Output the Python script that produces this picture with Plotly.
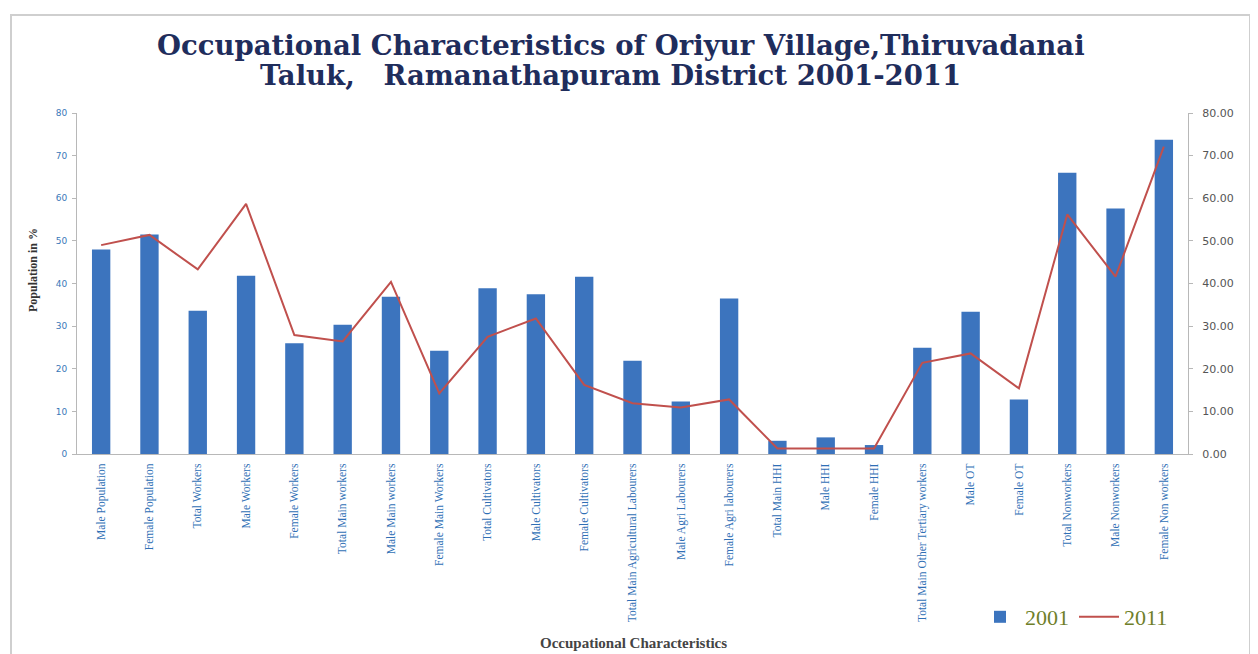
import plotly.graph_objects as go

categories = [
    "Male Population", "Female Population", "Total Workers", "Male Workers",
    "Female Workers", "Total Main workers", "Male Main workers",
    "Female Main Workers", "Total Cultivators", "Male Cultivators",
    "Female Cultivators", "Total Main Agricultural Labourers",
    "Male Agri Labourers", "Female Agri labourers", "Total Main HHI",
    "Male HHI", "Female HHI", "Total Main Other Tertiary workers",
    "Male OT", "Female OT", "Total Nonworkers", "Male Nonworkers",
    "Female Non workers",
]
values_2001 = [48.0, 51.5, 33.6, 41.8, 26.0, 30.3, 36.9, 24.2, 38.9, 37.5,
               41.6, 21.9, 12.3, 36.5, 3.1, 3.9, 2.1, 24.9, 33.4, 12.8,
               66.0, 57.6, 73.7]
values_2011 = [49.0, 51.4, 43.3, 58.7, 27.9, 26.4, 40.4, 14.2, 27.5, 31.8,
               16.2, 11.9, 10.9, 12.8, 1.3, 1.3, 1.3, 21.4, 23.6, 15.4,
               56.2, 41.6, 72.1]
left_ticks = [0, 10, 20, 30, 40, 50, 60, 70, 80]
right_ticks = [0, 10, 20, 30, 40, 50, 60, 70, 80]
title_line1 = "Occupational Characteristics of Oriyur Village,Thiruvadanai"
title_line2 = "Taluk,   Ramanathapuram District 2001-2011"

# figure geometry (page body has an 8px margin)
W, H = 1250, 646
ML, MR, MT, MB = 69, 70, 105, 200
PW, PH = W - ML - MR, H - MT - MB


def px(xp):
    return (xp - 8 - ML) / PW


def py(yp):
    return (MT + PH - (yp - 8)) / PH


fig = go.Figure()
fig.add_trace(go.Bar(
    x=categories, y=values_2001, name="2001",
    marker=dict(color="#3c74be", line=dict(width=0)),
))
fig.add_trace(go.Scatter(
    x=categories, y=values_2011, name="2011", mode="lines",
    line=dict(color="#c0504d", width=2), yaxis="y2",
))

fig.update_layout(
    width=W, height=H,
    paper_bgcolor="white", plot_bgcolor="white",
    margin=dict(l=ML, r=MR, t=MT, b=MB),
    bargap=0.62,
    xaxis=dict(
        tickangle=-90, showgrid=False, showline=True, linecolor="#b8b8b8",
        tickfont=dict(family="Liberation Serif", size=11.5, color="#2f6fb5"),
        ticks="", automargin=False, ticklabelstandoff=4,
    ),
    yaxis=dict(
        range=[0, 80], tickvals=left_ticks,
        ticktext=[str(v) for v in left_ticks],
        showgrid=False, zeroline=False, showline=True, linecolor="#b8b8b8",
        ticks="outside", ticklen=4, tickcolor="#b8b8b8",
        tickfont=dict(family="DejaVu Sans", size=9, color="#3a78b8"),
        automargin=False, ticklabelstandoff=3,
    ),
    yaxis2=dict(
        range=[0, 80], tickvals=right_ticks,
        ticktext=[f"{v:.2f}" for v in right_ticks],
        overlaying="y", side="right",
        showgrid=False, zeroline=False, showline=True, linecolor="#b8b8b8",
        ticks="outside", ticklen=4, tickcolor="#b8b8b8",
        tickfont=dict(family="DejaVu Sans", size=11, color="#555"),
        automargin=False, ticklabelstandoff=7,
    ),
    legend=dict(
        orientation="h", x=px(975), xanchor="left", y=py(617), yanchor="middle",
        font=dict(family="Liberation Serif", size=22, color="#6f7f2a"),
        bgcolor="rgba(0,0,0,0)", itemwidth=40,
    ),
    showlegend=True,
)

title_font = dict(family="DejaVu Serif", size=27.5, color="#1f2d5c")
fig.add_annotation(text="<b>" + title_line1 + "</b>", xref="paper", yref="paper",
                   x=px(621), y=py(45), xanchor="center", yanchor="middle",
                   showarrow=False, font=title_font)
fig.add_annotation(text="<b>" + title_line2 + "</b>", xref="paper", yref="paper",
                   x=px(610), y=py(75), xanchor="center", yanchor="middle",
                   showarrow=False, font=title_font)
fig.add_annotation(text="<b>Population in %</b>", xref="paper", yref="paper",
                   x=px(33), y=py(270), xanchor="center", yanchor="middle",
                   textangle=-90, showarrow=False,
                   font=dict(family="Liberation Serif", size=12, color="#333"))
fig.add_annotation(text="<b>Occupational Characteristics</b>", xref="paper",
                   yref="paper", x=px(633), y=py(643), xanchor="center",
                   yanchor="middle", showarrow=False,
                   font=dict(family="Liberation Serif", size=15, color="#444"))

fig.add_shape(type="rect", xref="paper", yref="paper",
              x0=px(11), x1=px(1250), y0=py(700), y1=py(15),
              line=dict(color="#cfcfcf", width=2), fillcolor="rgba(0,0,0,0)",
              layer="below")

fig.write_html("out.html")
